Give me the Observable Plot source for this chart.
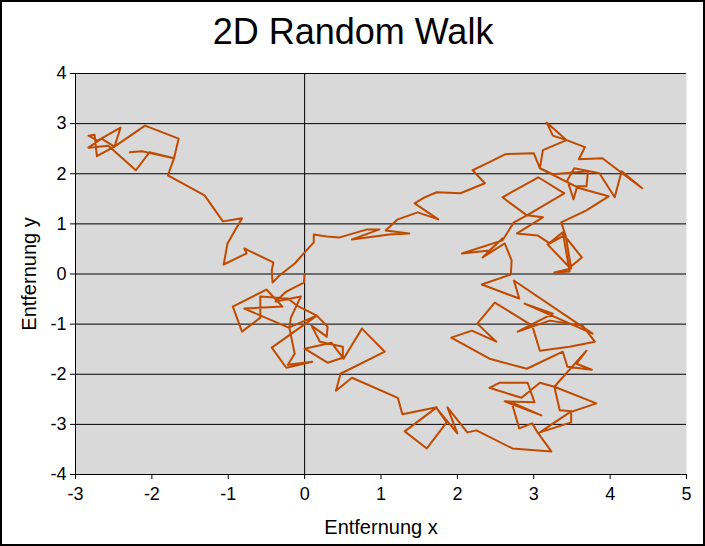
<!DOCTYPE html>
<html>
<head>
<meta charset="utf-8">
<script src="https://cdn.jsdelivr.net/npm/d3@7"></script>
<script src="https://cdn.jsdelivr.net/npm/@observablehq/plot@0.6"></script>
<style>
  body { margin: 0; background: #fff; }
</style>
</head>
<body>
<div id="chart"></div>
<script>
const chartTitle = "2D Random Walk";
const xLabel = "Entfernung x";
const yLabel = "Entfernung y";
const xTicks = [-3, -2, -1, 0, 1, 2, 3, 4, 5];
const yTicks = [-4, -3, -2, -1, 0, 1, 2, 3, 4];

// path of the walk (starts at the origin)
const walkX = [
  0, -0.01, -0.24, -0.38, -0.05, -0.18, -0.20, -0.13, -0.22, 0.10,
  -0.24, -0.43, 0.16, -0.10, -0.22, -0.58, -0.58, -0.82, -0.94, -0.50,
  -0.29, -0.79, -0.21, 0.16, 0.30, 0.29, 0.09, 0.20, 0.50, 0.50,
  0.30, 0, 0.35, 0.51, 0.75, 1.05, 0.47, 0.41, 0.62, 1.22,
  1.28, 1.73, 1.31, 1.60, 1.86, 1.73, 2.00, 1.87, 2.13, 2.25,
  2.72, 3.23, 3.05, 2.98, 2.81, 2.71, 3.10, 2.62, 3.01, 2.92,
  2.55, 2.42, 2.84, 3.08, 3.27, 3.34, 3.49, 3.49, 3.08, 3.47,
  3.82, 3.27, 3.69, 3.56, 3.76, 3.44, 3.38, 2.91, 2.42, 1.92,
  2.19, 2.51, 2.26, 2.49, 2.98, 3.08, 3.47, 3.80, 3.64, 3.21,
  2.79, 3.25, 2.88, 3.77, 2.74, 2.81, 2.32, 2.70, 2.71, 2.62,
  2.33, 2.59, 2.42, 2.06, 2.59, 2.74, 2.91, 2.59, 3.06, 3.40,
  2.91, 3.12, 2.78, 3.05, 3.21, 3.40, 3.63, 3.47, 3.18, 3.38,
  3.47, 3.27, 3.49, 3.42, 3.36, 3.69, 3.98, 3.60, 3.08, 3.25,
  3.71, 3.69, 3.57, 3.52, 3.44, 3.53, 3.86, 4.06, 4.15, 4.42,
  4.14, 3.90, 3.59, 3.67, 3.43, 3.17, 3.25, 3.43, 3.12, 3.08,
  3.00, 2.63, 2.42, 2.20, 2.36, 2.04, 1.73, 1.57, 1.44, 1.75,
  1.48, 1.22, 1.06, 1.37, 1.11, 0.62, 0.98, 0.82, 0.46, 0.29,
  0.12, 0.12, 0, -0.13, -0.33, -0.42, -0.43, -0.41, -0.79, -0.76,
  -1.06, -1.01, -0.82, -1.07, -1.31, -1.79, -1.71, -1.65, -2.09, -2.49,
  -2.72, -2.75, -2.83, -2.71, -2.41, -2.49, -2.66, -2.83, -2.57, -2.21,
  -2.03, -1.71, -2.13, -2.29
];
const walkY = [
  0, -0.17, -0.35, -0.55, -0.45, -0.87, -1.07, -1.59, -1.81, -1.75,
  -1.87, -1.47, -0.83, -0.63, -0.49, -0.45, -0.87, -1.15, -0.65, -0.31,
  -0.65, -0.69, -1.07, -0.83, -1.05, -1.25, -1.03, -1.35, -1.45, -1.67,
  -1.77, -1.49, -1.37, -1.69, -1.09, -1.55, -1.99, -2.33, -2.07, -2.47,
  -2.80, -2.66, -3.14, -3.48, -2.96, -2.68, -3.18, -2.66, -3.16, -3.12,
  -3.48, -3.54, -3.16, -2.98, -3.08, -2.56, -2.82, -2.54, -2.56, -2.17,
  -2.17, -2.27, -2.47, -2.17, -2.25, -2.72, -2.74, -2.96, -3.16, -2.76,
  -2.58, -2.25, -1.53, -1.79, -1.91, -1.85, -1.55, -1.89, -1.69, -1.27,
  -1.13, -1.35, -0.99, -0.57, -1.03, -1.53, -1.45, -1.35, -1.03, -0.93,
  -1.15, -0.79, -0.59, -1.19, -0.13, -0.49, -0.21, -0.01, 0.27, 0.61,
  0.33, 0.71, 0.47, 0.41, 0.67, 1.03, 1.17, 1.53, 1.93, 1.61,
  1.17, 1.13, 0.81, 0.77, 0.61, 0.77, 0.33, 0.13, 0.59, 0.83,
  0.05, 0.03, 0.11, 0.75, 1.03, 1.27, 1.55, 1.71, 2.11, 1.99,
  2.05, 1.75, 1.75, 1.49, 1.87, 2.11, 2.01, 1.53, 2.05, 1.71,
  2.03, 2.31, 2.29, 2.53, 2.67, 3.02, 2.76, 2.67, 2.47, 2.11,
  2.41, 2.39, 2.23, 2.07, 1.81, 1.61, 1.63, 1.53, 1.41, 1.09,
  1.23, 1.09, 0.87, 0.81, 0.79, 0.69, 0.89, 0.89, 0.73, 0.75,
  0.79, 0.63, 0.43, 0.21, -0.03, -0.17, 0.07, 0.23, 0.51, 0.41,
  0.19, 0.61, 1.11, 1.05, 1.57, 1.97, 2.31, 2.70, 2.96, 2.54,
  2.35, 2.78, 2.76, 2.66, 2.92, 2.54, 2.70, 2.52, 2.56, 2.07,
  2.43, 2.31, 2.45, 2.43
];

let walk = walkX.map((x, i) => ({x: x, y: walkY[i]}));
let fmt = d => String(d);

let plot = Plot.plot({
  width: 705,
  height: 546,
  marginLeft: 75,
  marginRight: 19,
  marginTop: 73,
  marginBottom: 72,
  x: {domain: [-3, 5], axis: null},
  y: {domain: [-4, 4], axis: null},
  style: {
    fontFamily: "'Liberation Sans', Arial, sans-serif",
    color: "black",
    background: "white",
    overflow: "visible"
  },
  marks: [
    Plot.frame({fill: "#d9d9d9", stroke: null}),
    Plot.ruleY(yTicks, {stroke: "black", strokeWidth: 1}),
    Plot.ruleX([0], {stroke: "black", strokeWidth: 1}),
    Plot.ruleX([-3], {stroke: "black", strokeWidth: 1}),
    Plot.line(walk, {x: "x", y: "y", stroke: "#c04a00", strokeWidth: 2}),
    Plot.axisX({ticks: xTicks, tickSize: 5, tickPadding: 8, fontSize: 18, tickFormat: fmt, label: null}),
    Plot.axisY({ticks: yTicks, tickSize: 5, tickPadding: 4, fontSize: 18, tickFormat: fmt, label: null}),
    Plot.text([chartTitle], {text: d => d, frameAnchor: "top", textAnchor: "middle", dx: -28, dy: -55, fontSize: 36}),
    Plot.text([xLabel], {text: d => d, frameAnchor: "bottom", textAnchor: "middle", dy: 59, fontSize: 20}),
    Plot.text([yLabel], {text: d => d, frameAnchor: "left", textAnchor: "middle", dx: -46, rotate: -90, fontSize: 20})
  ]
});

// outer border of the chart
d3.select(plot).append("rect")
  .attr("x", 1).attr("y", 1)
  .attr("width", 703).attr("height", 544)
  .attr("fill", "none")
  .attr("stroke", "black")
  .attr("stroke-width", 2);

document.getElementById("chart").append(plot);
</script>
</body>
</html>
